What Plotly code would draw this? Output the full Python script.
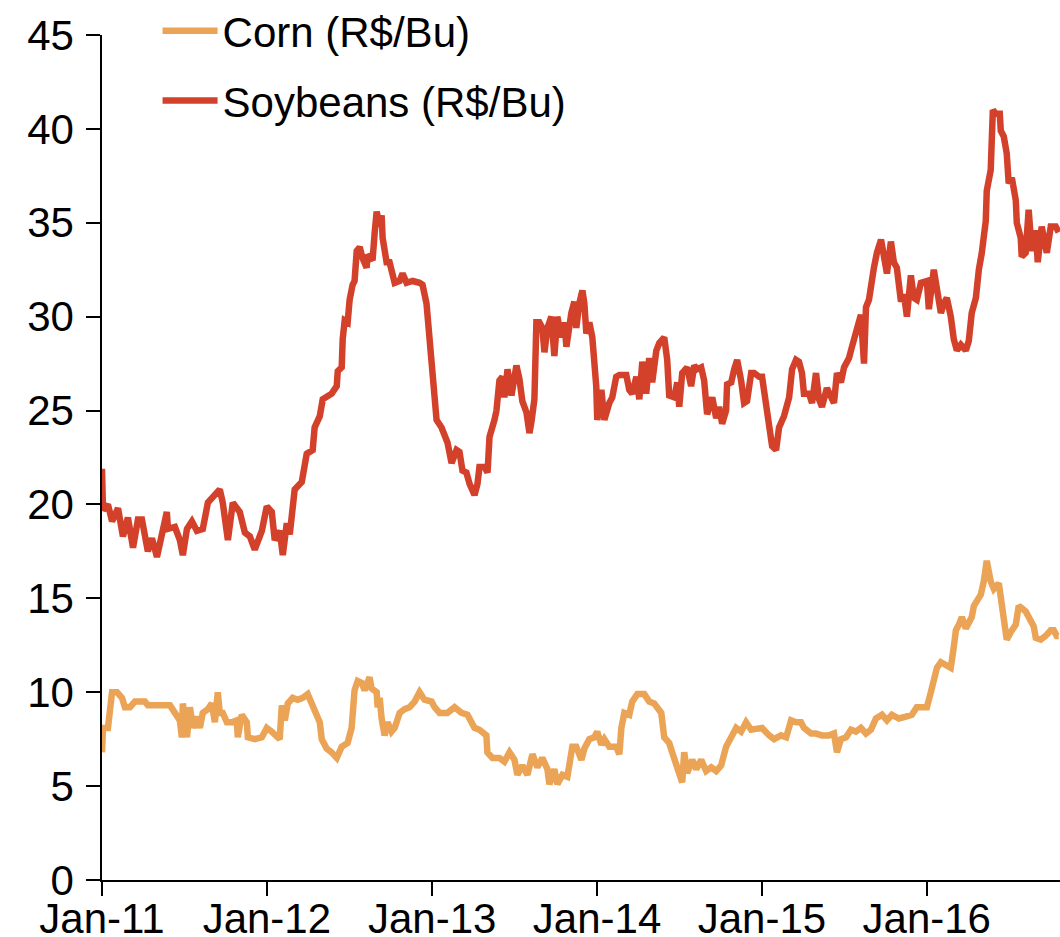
import pandas as pd
import plotly.graph_objects as go

# ---- data (decimal years, values in R$/Bu) ----
soy_t = [2011.000, 2011.006, 2011.036, 2011.061, 2011.097, 2011.127, 2011.157, 2011.188, 2011.218, 2011.242,
         2011.278, 2011.303, 2011.333, 2011.363, 2011.393, 2011.400, 2011.442, 2011.472, 2011.490, 2011.515,
         2011.545, 2011.575, 2011.611, 2011.642, 2011.684, 2011.714, 2011.732, 2011.763, 2011.793, 2011.835,
         2011.866, 2011.896, 2011.926, 2011.969, 2011.999, 2012.029, 2012.047, 2012.077, 2012.096, 2012.120,
         2012.138, 2012.168, 2012.211, 2012.241, 2012.277, 2012.289, 2012.320, 2012.338, 2012.392, 2012.423,
         2012.429, 2012.453, 2012.459, 2012.471, 2012.489, 2012.501, 2012.519, 2012.531, 2012.544, 2012.562,
         2012.580, 2012.604, 2012.610, 2012.640, 2012.653, 2012.665, 2012.683, 2012.695, 2012.701, 2012.713,
         2012.725, 2012.743, 2012.774, 2012.804, 2012.822, 2012.846, 2012.883, 2012.925, 2012.943, 2012.967,
         2012.985, 2013.004, 2013.028, 2013.058, 2013.076, 2013.094, 2013.119, 2013.149, 2013.167, 2013.185,
         2013.209, 2013.228, 2013.258, 2013.276, 2013.288, 2013.318, 2013.337, 2013.349, 2013.379, 2013.391,
         2013.409, 2013.427, 2013.439, 2013.458, 2013.482, 2013.512, 2013.530, 2013.548, 2013.573, 2013.591,
         2013.603, 2013.621, 2013.633, 2013.651, 2013.669, 2013.682, 2013.700, 2013.724, 2013.742, 2013.760,
         2013.785, 2013.803, 2013.815, 2013.833, 2013.845, 2013.863, 2013.875, 2013.893, 2013.912, 2013.924,
         2013.936, 2013.954, 2013.972, 2013.996, 2014.002, 2014.027, 2014.045, 2014.075, 2014.093, 2014.117,
         2014.136, 2014.178, 2014.196, 2014.214, 2014.239, 2014.257, 2014.275, 2014.299, 2014.317, 2014.335,
         2014.360, 2014.378, 2014.408, 2014.426, 2014.438, 2014.469, 2014.487, 2014.499, 2014.517, 2014.547,
         2014.571, 2014.590, 2014.608, 2014.632, 2014.650, 2014.668, 2014.699, 2014.723, 2014.741, 2014.759,
         2014.783, 2014.789, 2014.814, 2014.832, 2014.850, 2014.874, 2014.892, 2014.910, 2014.935, 2014.953,
         2014.983, 2015.001, 2015.025, 2015.044, 2015.062, 2015.086, 2015.104, 2015.134, 2015.165, 2015.183,
         2015.207, 2015.225, 2015.243, 2015.255, 2015.286, 2015.304, 2015.328, 2015.346, 2015.364, 2015.394,
         2015.419, 2015.437, 2015.455, 2015.479, 2015.498, 2015.528, 2015.546, 2015.576, 2015.600, 2015.619,
         2015.631, 2015.649, 2015.661, 2015.679, 2015.697, 2015.722, 2015.740, 2015.758, 2015.782, 2015.800,
         2015.818, 2015.843, 2015.861, 2015.879, 2015.903, 2015.921, 2015.939, 2015.964, 2016.000, 2016.012,
         2016.042, 2016.061, 2016.085, 2016.103, 2016.121, 2016.145, 2016.163, 2016.182, 2016.206, 2016.236,
         2016.254, 2016.272, 2016.297, 2016.315, 2016.333, 2016.357, 2016.363, 2016.387, 2016.393, 2016.400,
         2016.418, 2016.442, 2016.448, 2016.466, 2016.484, 2016.496, 2016.515, 2016.527, 2016.539, 2016.545,
         2016.569, 2016.575, 2016.599, 2016.617, 2016.636, 2016.660, 2016.672, 2016.696, 2016.727, 2016.751,
         2016.781, 2016.799]
soy_v = [21.9, 19.7, 20.0, 19.1, 19.8, 18.3, 19.3, 17.7, 19.2, 19.2,
         17.5, 18.2, 17.2, 18.6, 19.6, 18.7, 18.8, 18.1, 17.3, 18.7,
         19.1, 18.6, 18.7, 20.1, 20.5, 20.8, 20.1, 18.1, 20.1, 19.6,
         18.5, 18.3, 17.6, 18.6, 19.9, 19.6, 18.1, 18.6, 17.3, 19.0,
         18.4, 20.8, 21.2, 22.7, 22.9, 24.1, 24.7, 25.6, 25.9, 26.3,
         27.1, 27.3, 28.8, 29.8, 29.7, 30.9, 31.7, 31.9, 33.5, 33.7,
         33.1, 32.6, 33.3, 33.0, 34.5, 35.6, 34.8, 35.4, 34.2, 33.4,
         32.9, 32.9, 31.8, 31.9, 32.3, 31.8, 31.9, 31.8, 31.7, 30.7,
         28.8, 26.1, 24.5, 24.1, 23.6, 23.3, 22.2, 22.9, 22.8, 21.8,
         21.7, 21.1, 20.5, 21.1, 22.0, 22.0, 21.7, 23.6, 24.5, 25.0,
         26.6, 26.8, 25.7, 27.2, 25.8, 27.4, 26.7, 25.5, 24.9, 23.8,
         24.4, 25.6, 29.7, 29.7, 29.4, 28.1, 29.4, 30.0, 27.9, 30.0,
         28.9, 29.7, 28.4, 29.7, 30.2, 30.8, 29.4, 30.7, 31.4, 30.7,
         29.1, 29.7, 28.9, 26.3, 24.5, 26.1, 24.5, 25.4, 25.7, 26.8,
         26.9, 26.9, 26.1, 25.9, 26.8, 25.6, 27.6, 25.9, 27.8, 26.5,
         28.2, 28.6, 28.9, 27.7, 25.8, 25.7, 26.5, 25.2, 27.0, 27.3,
         26.3, 27.4, 27.2, 27.3, 26.6, 24.8, 25.7, 24.6, 25.2, 24.3,
         25.0, 26.4, 26.5, 27.2, 27.7, 26.6, 25.4, 25.5, 27.0, 27.0,
         26.8, 26.8, 25.2, 24.1, 23.1, 22.9, 24.1, 24.7, 25.7, 27.2,
         27.7, 27.6, 27.0, 25.9, 25.9, 25.4, 27.0, 25.6, 25.2, 26.2,
         25.7, 25.4, 27.0, 26.5, 27.3, 27.8, 28.4, 29.4, 30.1, 27.5,
         30.5, 30.9, 31.9, 32.6, 33.4, 34.1, 33.2, 32.3, 34.0, 32.9,
         32.6, 30.8, 31.2, 30.0, 32.2, 31.0, 30.9, 31.8, 31.9, 30.4,
         32.5, 31.4, 30.2, 30.7, 31.0, 30.0, 28.8, 28.2, 28.5, 28.2,
         28.7, 30.2, 31.0, 32.5, 33.4, 35.1, 36.7, 37.8, 38.9, 41.0,
         40.8, 40.8, 39.9, 39.6, 38.7, 37.1, 37.4, 36.9, 36.2, 35.0,
         34.2, 33.2, 33.4, 35.7, 33.5, 34.6, 32.9, 34.8, 33.4, 34.8,
         34.8, 34.5]

corn_t = [2011.000, 2011.006, 2011.036, 2011.061, 2011.091, 2011.121, 2011.139, 2011.169, 2011.200, 2011.260,
          2011.278, 2011.412, 2011.442, 2011.472, 2011.484, 2011.490, 2011.515, 2011.533, 2011.551, 2011.575,
          2011.593, 2011.611, 2011.642, 2011.666, 2011.684, 2011.702, 2011.714, 2011.732, 2011.757, 2011.787,
          2011.817, 2011.823, 2011.847, 2011.878, 2011.884, 2011.926, 2011.969, 2011.999, 2012.029, 2012.059,
          2012.077, 2012.090, 2012.108, 2012.126, 2012.156, 2012.186, 2012.217, 2012.247, 2012.271, 2012.301,
          2012.320, 2012.332, 2012.362, 2012.392, 2012.423, 2012.453, 2012.489, 2012.513, 2012.531, 2012.550,
          2012.574, 2012.592, 2012.610, 2012.622, 2012.634, 2012.665, 2012.671, 2012.683, 2012.695, 2012.713,
          2012.731, 2012.755, 2012.774, 2012.804, 2012.834, 2012.864, 2012.895, 2012.925, 2012.955, 2012.998,
          2013.016, 2013.046, 2013.094, 2013.137, 2013.179, 2013.215, 2013.258, 2013.288, 2013.330, 2013.336,
          2013.367, 2013.409, 2013.439, 2013.470, 2013.500, 2013.518, 2013.548, 2013.579, 2013.609, 2013.639,
          2013.669, 2013.700, 2013.712, 2013.742, 2013.760, 2013.791, 2013.821, 2013.851, 2013.875, 2013.906,
          2013.924, 2013.954, 2013.984, 2014.002, 2014.027, 2014.045, 2014.075, 2014.117, 2014.136, 2014.148,
          2014.166, 2014.196, 2014.214, 2014.245, 2014.287, 2014.317, 2014.347, 2014.366, 2014.390, 2014.408,
          2014.438, 2014.456, 2014.481, 2014.499, 2014.517, 2014.529, 2014.547, 2014.578, 2014.602, 2014.632,
          2014.662, 2014.693, 2014.723, 2014.753, 2014.783, 2014.814, 2014.844, 2014.874, 2014.904, 2014.935,
          2014.971, 2015.001, 2015.044, 2015.074, 2015.116, 2015.147, 2015.177, 2015.207, 2015.237, 2015.255,
          2015.298, 2015.328, 2015.364, 2015.407, 2015.437, 2015.455, 2015.479, 2015.510, 2015.540, 2015.570,
          2015.600, 2015.631, 2015.661, 2015.691, 2015.728, 2015.758, 2015.788, 2015.831, 2015.873, 2015.909,
          2015.939, 2015.970, 2016.000, 2016.024, 2016.042, 2016.061, 2016.085, 2016.115, 2016.145, 2016.163,
          2016.176, 2016.194, 2016.212, 2016.236, 2016.254, 2016.272, 2016.285, 2016.303, 2016.327, 2016.345,
          2016.363, 2016.387, 2016.406, 2016.436, 2016.454, 2016.478, 2016.484, 2016.508, 2016.539, 2016.557,
          2016.575, 2016.599, 2016.630, 2016.648, 2016.660, 2016.690, 2016.720, 2016.751, 2016.769, 2016.787,
          2016.799]
corn_v = [6.8, 8.1, 8.1, 10.0, 10.0, 9.7, 9.2, 9.2, 9.5, 9.5,
          9.3, 9.3, 8.9, 8.5, 7.6, 9.4, 7.6, 9.2, 8.1, 8.7,
          8.1, 8.9, 9.1, 9.4, 8.4, 10.0, 8.9, 8.9, 8.4, 8.4,
          8.5, 7.6, 8.8, 8.4, 7.6, 7.5, 7.6, 8.1, 7.9, 7.6,
          7.5, 9.3, 8.5, 9.4, 9.7, 9.6, 9.7, 9.9, 9.4, 8.9,
          8.4, 7.5, 7.0, 6.8, 6.5, 7.1, 7.3, 8.1, 10.1, 10.6,
          10.5, 10.1, 10.5, 10.8, 10.2, 10.0, 9.2, 9.7, 8.6, 7.7,
          8.4, 7.9, 8.1, 8.9, 9.1, 9.2, 9.5, 10.0, 9.6, 9.5,
          9.2, 8.9, 8.9, 9.2, 8.9, 8.8, 8.1, 8.0, 7.7, 6.8,
          6.5, 6.5, 6.3, 6.8, 6.4, 5.6, 6.1, 5.6, 6.7, 6.0,
          6.5, 5.9, 5.1, 5.9, 5.1, 5.6, 5.5, 7.1, 7.1, 6.4,
          7.0, 7.5, 7.6, 7.9, 7.2, 7.5, 7.1, 7.1, 6.7, 8.1,
          8.9, 8.8, 9.5, 9.9, 9.9, 9.5, 9.4, 9.2, 8.9, 7.6,
          7.3, 6.8, 6.2, 5.8, 5.2, 6.8, 5.7, 6.4, 5.9, 6.4,
          5.8, 6.0, 5.8, 6.1, 7.1, 7.6, 8.1, 7.9, 8.4, 8.0,
          8.1, 8.1, 7.7, 7.5, 7.7, 7.6, 8.5, 8.4, 8.4, 8.1,
          7.8, 7.8, 7.7, 7.7, 7.8, 6.8, 7.5, 7.6, 8.0, 7.9,
          8.1, 7.8, 8.0, 8.6, 8.8, 8.5, 8.8, 8.6, 8.7, 8.8,
          9.2, 9.2, 9.2, 10.0, 10.6, 11.3, 11.6, 11.4, 11.3, 12.4,
          13.3, 13.6, 14.0, 13.4, 13.8, 14.0, 14.6, 14.8, 15.2, 15.9,
          17.0, 15.9, 15.5, 15.8, 14.5, 13.3, 12.8, 13.2, 13.6, 14.6,
          14.5, 14.3, 13.8, 13.5, 12.9, 12.8, 13.0, 13.3, 13.3, 13.0,
          13.0]

series_names = ["Corn (R$/Bu)", "Soybeans (R$/Bu)"]
series_colors = ["#EBA356", "#D4412A"]
x_start = "2011-01-01"
x_end = "2016-10-22"


def to_dates(dec_years):
    s = pd.Series(dec_years)
    return pd.Timestamp("2011-01-01") + pd.to_timedelta((s - 2011.0) * 365.25, unit="D")


FONT = "Liberation Sans, Arial, sans-serif"
FS = 42

fig = go.Figure()
fig.add_trace(go.Scatter(x=to_dates(corn_t), y=corn_v, mode="lines", name=series_names[0],
                         legendgroup="corn",
                         line=dict(color=series_colors[0], width=6.5)))
fig.add_trace(go.Scatter(x=to_dates(soy_t), y=soy_v, mode="lines", name=series_names[1],
                         legendgroup="soy",
                         line=dict(color=series_colors[1], width=6.5)))

fig.update_layout(
    width=1060, height=937,
    margin=dict(l=102, r=0, t=35, b=57, autoexpand=False),
    paper_bgcolor="white", plot_bgcolor="white",
    font=dict(family=FONT, size=FS, color="black"),
    showlegend=True,
    legend=dict(x=0.058, y=1.045, xanchor="left", yanchor="top",
                bgcolor="rgba(0,0,0,0)", font=dict(size=FS, family=FONT),
                itemwidth=55, tracegroupgap=12),
    xaxis=dict(type="date", range=[x_start, x_end], tick0="2011-01-01", dtick="M12",
               tickformat="%b-%y", showgrid=False, zeroline=False, automargin=False,
               showline=True, linecolor="black", linewidth=1.5,
               ticks="outside", ticklen=14, tickwidth=1.5, tickcolor="black",
               ticklabelstandoff=-13),
    yaxis=dict(range=[0, 45], dtick=5, tick0=0, showgrid=False, zeroline=False, automargin=False,
               showline=True, linecolor="black", linewidth=1.5,
               ticks="outside", ticklen=14, tickwidth=1.5, tickcolor="black",
               ticklabelstandoff=4),
)

# remove the default page margin so the 1060x937 figure fills the window exactly
fig.write_html("out.html",
               config={"displayModeBar": False},
               post_script="document.body.style.margin='0';document.body.style.overflow='hidden';")
